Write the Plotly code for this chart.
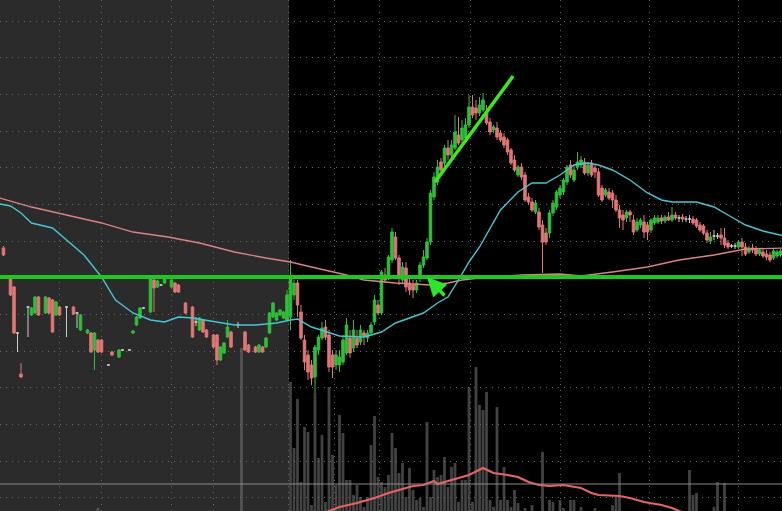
import plotly.graph_objects as go

# ---------------- data ----------------
# premarket bars: bar index and OHLC prices
pre_x = [0, 2, 3, 4, 5, 7, 8, 9, 10, 12,
         13, 14, 15, 16, 18, 20, 21, 22, 24, 25,
         26, 27, 28, 30, 31, 33, 34, 36, 37, 38,
         39, 40, 42, 43, 44, 45, 46, 48, 49, 50,
         52, 54, 55, 56, 57, 58, 60, 61, 62, 63,
         64, 65, 67, 69, 70, 72, 73, 74, 75, 76,
         77, 78, 79, 80, 81]
pre_open = [3.52, 3.23, 3.13, 2.67, 2.26, 2.93, 2.85, 2.87, 3.03, 2.87,
            3.02, 3.00, 2.85, 2.93, 2.93, 2.93, 2.87, 2.70, 2.67, 2.67,
            2.50, 2.60, 2.60, 2.35, 2.48, 2.43, 2.50, 2.50, 2.67, 2.75,
            2.82, 2.92, 2.88, 3.20, 3.13, 3.15, 3.17, 3.13, 3.17, 3.15,
            2.97, 2.93, 2.78, 2.70, 2.80, 2.70, 2.65, 2.65, 2.40, 2.47,
            2.63, 2.68, 2.75, 2.68, 2.55, 2.53, 2.48, 2.53, 2.53, 2.67,
            2.83, 2.80, 2.85, 2.82, 2.80]
pre_high = [3.54, 3.24, 3.14, 2.68, 2.37, 2.94, 2.93, 3.04, 3.04, 3.04,
            3.03, 3.01, 2.99, 2.94, 2.94, 2.94, 2.88, 2.86, 2.71, 2.68,
            2.68, 2.61, 2.61, 2.36, 2.49, 2.51, 2.51, 2.51, 2.70, 2.84,
            2.93, 2.93, 3.23, 3.22, 3.20, 3.16, 3.23, 3.21, 3.18, 3.16,
            2.98, 2.94, 2.83, 2.83, 2.81, 2.71, 2.66, 2.66, 2.54, 2.58,
            2.80, 2.69, 2.78, 2.69, 2.56, 2.54, 2.56, 2.54, 2.63, 2.88,
            2.98, 2.88, 2.91, 2.89, 3.10]
pre_low = [3.44, 3.04, 2.66, 2.48, 2.22, 2.63, 2.84, 2.86, 2.84, 2.86,
           2.86, 2.67, 2.84, 2.84, 2.63, 2.85, 2.72, 2.69, 2.66, 2.47,
           2.30, 2.47, 2.47, 2.34, 2.44, 2.42, 2.49, 2.49, 2.66, 2.74,
           2.81, 2.91, 2.87, 2.88, 3.12, 3.14, 3.16, 3.12, 3.07, 3.07,
           2.86, 2.62, 2.74, 2.69, 2.67, 2.62, 2.52, 2.35, 2.39, 2.46,
           2.62, 2.52, 2.72, 2.49, 2.47, 2.47, 2.47, 2.47, 2.52, 2.66,
           2.82, 2.79, 2.84, 2.81, 2.79]
pre_close = [3.45, 3.05, 2.67, 2.67, 2.23, 2.93, 2.92, 3.03, 2.85, 3.03,
             2.87, 2.68, 2.98, 2.85, 2.93, 2.86, 2.87, 2.85, 2.70, 2.48,
             2.67, 2.48, 2.48, 2.35, 2.45, 2.50, 2.50, 2.50, 2.69, 2.83,
             2.92, 2.92, 3.22, 3.12, 3.19, 3.15, 3.22, 3.20, 3.08, 3.08,
             2.87, 2.63, 2.78, 2.82, 2.68, 2.63, 2.53, 2.40, 2.53, 2.57,
             2.73, 2.53, 2.75, 2.50, 2.48, 2.48, 2.55, 2.48, 2.62, 2.87,
             2.97, 2.87, 2.90, 2.88, 3.05]

# regular session bars: consecutive bar indices starting at 82
day_start = 82
day_open = [2.83, 3.05, 3.17, 2.88, 2.60, 2.45, 2.35, 2.23, 2.50, 2.62,
            2.73, 2.65, 2.45, 2.35, 2.35, 2.38, 2.47, 2.62, 2.52, 2.62,
            2.58, 2.67, 2.62, 2.67, 2.78, 2.95, 2.87, 3.25, 3.23, 3.40,
            3.63, 3.42, 3.20, 3.32, 3.17, 3.15, 3.10, 3.23, 3.35, 3.42,
            3.58, 4.03, 4.18, 4.38, 4.37, 4.52, 4.45, 4.52, 4.65, 4.60,
            4.62, 4.75, 4.93, 4.92, 4.87, 4.90, 4.87, 4.78, 4.70, 4.72,
            4.67, 4.63, 4.60, 4.50, 4.40, 4.25, 4.33, 4.25, 4.03, 3.98,
            3.88, 3.88, 3.75, 3.67, 3.67, 3.87, 3.93, 4.05, 4.08, 4.18,
            4.35, 4.20, 4.33, 4.35, 4.38, 4.27, 4.37, 4.32, 4.28, 4.12,
            4.05, 4.08, 4.07, 4.00, 3.90, 3.85, 3.82, 3.88, 3.80, 3.70,
            3.75, 3.78, 3.75, 3.70, 3.77, 3.78, 3.82, 3.79, 3.83, 3.80,
            3.85, 3.82, 3.83, 3.81, 3.81, 3.81, 3.80, 3.75, 3.74, 3.67,
            3.59, 3.64, 3.64, 3.65, 3.62, 3.57, 3.54, 3.54, 3.53, 3.58,
            3.53, 3.48, 3.52, 3.51, 3.46, 3.48, 3.46, 3.45, 3.42, 3.44,
            3.45]
day_high = [3.40, 3.20, 3.20, 2.95, 2.65, 2.50, 2.40, 2.55, 2.65, 2.78,
            2.80, 2.70, 2.50, 2.50, 2.50, 2.65, 2.82, 2.70, 2.80, 2.70,
            2.75, 2.70, 2.70, 2.78, 3.05, 3.00, 3.30, 3.32, 3.45, 3.72,
            3.68, 3.45, 3.38, 3.38, 3.25, 3.20, 3.20, 3.38, 3.50, 3.62,
            4.10, 4.28, 4.40, 4.42, 4.55, 4.60, 4.60, 4.85, 4.83, 4.80,
            4.82, 5.05, 5.05, 5.00, 5.03, 5.07, 4.95, 4.82, 4.75, 4.78,
            4.70, 4.67, 4.62, 4.52, 4.45, 4.35, 4.37, 4.28, 4.07, 4.02,
            4.00, 3.92, 3.80, 3.72, 3.90, 4.00, 4.10, 4.15, 4.22, 4.35,
            4.40, 4.35, 4.48, 4.44, 4.42, 4.38, 4.40, 4.35, 4.32, 4.15,
            4.12, 4.12, 4.10, 4.05, 3.95, 3.90, 3.90, 3.90, 3.85, 3.82,
            3.82, 3.85, 3.78, 3.82, 3.85, 3.85, 3.85, 3.85, 3.88, 3.93,
            3.88, 3.85, 3.86, 3.84, 3.85, 3.84, 3.82, 3.78, 3.76, 3.70,
            3.68, 3.70, 3.67, 3.72, 3.72, 3.60, 3.56, 3.57, 3.60, 3.62,
            3.57, 3.54, 3.56, 3.54, 3.52, 3.52, 3.50, 3.48, 3.52, 3.50,
            3.51]
day_low = [2.70, 3.00, 2.83, 2.60, 2.30, 2.20, 2.15, 2.07, 2.45, 2.60,
           2.60, 2.28, 2.22, 2.30, 2.28, 2.35, 2.45, 2.42, 2.48, 2.52,
           2.55, 2.55, 2.58, 2.64, 2.75, 2.85, 2.85, 3.17, 3.20, 3.37,
           3.40, 3.15, 3.17, 3.08, 3.05, 3.02, 3.07, 3.18, 3.32, 3.40,
           3.55, 4.00, 4.15, 4.25, 4.32, 4.40, 4.42, 4.50, 4.55, 4.57,
           4.60, 4.72, 4.82, 4.80, 4.84, 4.88, 4.75, 4.65, 4.67, 4.60,
           4.58, 4.52, 4.45, 4.35, 4.28, 4.23, 4.20, 3.98, 3.95, 3.88,
           3.86, 3.70, 3.27, 3.55, 3.62, 3.84, 3.90, 4.02, 4.05, 4.15,
           4.22, 4.18, 4.30, 4.32, 4.25, 4.24, 4.23, 4.22, 4.03, 3.98,
           4.03, 4.00, 3.92, 3.88, 3.72, 3.70, 3.78, 3.78, 3.65, 3.68,
           3.72, 3.62, 3.60, 3.67, 3.75, 3.76, 3.76, 3.77, 3.79, 3.78,
           3.80, 3.78, 3.78, 3.78, 3.77, 3.75, 3.72, 3.68, 3.65, 3.57,
           3.56, 3.60, 3.61, 3.55, 3.52, 3.51, 3.52, 3.51, 3.51, 3.44,
           3.44, 3.46, 3.47, 3.44, 3.44, 3.42, 3.40, 3.38, 3.40, 3.42,
           3.43]
day_close = [3.23, 3.17, 2.95, 2.62, 2.38, 2.28, 2.22, 2.53, 2.63, 2.72,
             2.63, 2.33, 2.33, 2.45, 2.43, 2.60, 2.75, 2.47, 2.70, 2.55,
             2.70, 2.64, 2.67, 2.75, 3.00, 2.87, 3.28, 3.20, 3.43, 3.68,
             3.42, 3.23, 3.33, 3.13, 3.10, 3.10, 3.17, 3.35, 3.43, 3.58,
             4.07, 4.23, 4.33, 4.30, 4.52, 4.45, 4.55, 4.68, 4.57, 4.72,
             4.75, 4.93, 4.85, 4.87, 4.95, 5.00, 4.77, 4.68, 4.73, 4.63,
             4.60, 4.55, 4.48, 4.37, 4.30, 4.33, 4.23, 4.00, 3.98, 3.90,
             3.97, 3.73, 3.58, 3.58, 3.87, 3.97, 4.08, 4.12, 4.20, 4.33,
             4.25, 4.30, 4.38, 4.40, 4.27, 4.35, 4.25, 4.28, 4.05, 4.00,
             4.10, 4.02, 4.00, 3.90, 3.82, 3.80, 3.88, 3.85, 3.68, 3.78,
             3.80, 3.68, 3.68, 3.80, 3.82, 3.82, 3.79, 3.83, 3.80, 3.85,
             3.82, 3.82, 3.81, 3.81, 3.81, 3.77, 3.74, 3.70, 3.67, 3.60,
             3.63, 3.64, 3.64, 3.62, 3.55, 3.53, 3.54, 3.54, 3.58, 3.53,
             3.46, 3.52, 3.50, 3.46, 3.50, 3.44, 3.43, 3.40, 3.49, 3.48,
             3.49]

# volume (thousands of shares) by bar index
vol_x = [27, 68,
         82, 83, 84, 85, 86, 87, 88, 89, 90, 91,
         92, 93, 94, 95, 96, 97, 98, 99, 100, 101,
         102, 103, 104, 105, 106, 107, 108, 109, 110, 111,
         112, 113, 114, 115, 116, 117, 118, 119, 120, 121,
         122, 123, 124, 125, 126, 127, 128, 129, 130, 131,
         132, 133, 134, 135, 136, 137, 138, 139, 140, 141,
         142, 143, 144, 145, 146, 147, 149, 151, 154, 156,
         157, 159, 160, 162, 163, 165, 169, 174, 175, 176,
         196, 197, 198, 203, 204, 206]
vol_k = [3, 163,
         129, 63, 112, 29, 84, 79, 6, 118, 53, 76,
         9, 124, 56, 26, 96, 78, 31, 31, 16, 26,
         14, 4, 14, 66, 95, 34, 29, 24, 36, 78,
         63, 38, 48, 14, 43, 21, 11, 13, 4, 89,
         14, 41, 34, 36, 54, 24, 44, 48, 9, 31,
         31, 124, 9, 144, 106, 101, 119, 11, 4, 104,
         11, 44, 11, 4, 21, 8, 3, 6, 59, 11,
         9, 11, 3, 11, 11, 4, 3, 6, 14, 38,
         41, 16, 18, 4, 29, 28]

# moving averages
ma_fast_x = [-1, 2, 5, 8, 14, 18, 23, 28, 32, 37,
             42, 46, 50, 54, 59, 66, 72, 78, 82, 84,
             88, 93, 96, 103, 108, 112, 117, 120, 124, 127,
             130, 133, 136, 142, 147, 151, 155, 159, 163, 167,
             170, 174, 179, 184, 188, 191, 198, 203, 208, 212,
             217, 223]
ma_fast = [3.96, 3.94, 3.87, 3.77, 3.72, 3.60, 3.45, 3.23, 3.00, 2.87,
           2.80, 2.78, 2.83, 2.82, 2.79, 2.75, 2.75, 2.77, 2.80, 2.81,
           2.73, 2.67, 2.64, 2.63, 2.68, 2.77, 2.83, 2.87, 2.97, 3.03,
           3.20, 3.38, 3.53, 3.90, 4.08, 4.17, 4.17, 4.25, 4.35, 4.37,
           4.35, 4.30, 4.20, 4.07, 4.00, 3.98, 3.98, 3.93, 3.83, 3.75,
           3.69, 3.64]
ma_slow_x = [-1, 8, 18, 28, 37, 47, 56, 66, 75, 82,
             88, 93, 98, 103, 108, 112, 117, 122, 127, 131,
             136, 148, 159, 165, 174, 184, 193, 203, 212, 223]
ma_slow = [4.02, 3.93, 3.85, 3.77, 3.68, 3.63, 3.57, 3.48, 3.42, 3.38,
           3.33, 3.29, 3.25, 3.20, 3.18, 3.17, 3.16, 3.15, 3.17, 3.20,
           3.22, 3.25, 3.26, 3.24, 3.28, 3.33, 3.40, 3.45, 3.51, 3.52]
vol_ma_x = [90, 93, 96, 101, 106, 110, 115, 117, 120, 123,
            124, 127, 130, 133, 137, 140, 144, 147, 150, 153,
            156, 160, 165, 168, 170, 176, 179, 183, 188, 191,
            193, 196]
vol_ma = [-4, 0, 4, 8, 13, 18, 23, 25, 26, 30,
          27, 30, 33, 36, 43, 38, 36, 34, 29, 26,
          25, 26, 23, 18, 16, 15, 13, 9, 6, 3,
          0, -4]

# time grid marks (bar index) and drawings
grid_x = [16.14, 28.14, 47.86, 59.86, 81.29, 94.43, 107.29, 133.29, 159.0, 184.43, 210.14]
session_open_x = 81.57
key_level = 3.23
vol_ref_level = 27
trend_x = [123.3, 145.6]
trend_y = [4.18, 5.24]
arrow_tip = [121.0, 3.23]
arrow_tail = [126.4, 3.03]

# ---------------- figure ----------------
day_x = list(range(day_start, day_start + len(day_open)))
all_x = pre_x + day_x
all_o = pre_open + day_open
all_h = pre_high + day_high
all_l = pre_low + day_low
all_c = pre_close + day_close

UP, DOWN, FLAT = "#2fbf3a", "#e07676", "#c9c9c9"


def subset(cond):
    idx = [i for i in range(len(all_x)) if cond(all_o[i], all_c[i])]
    return ([all_x[i] for i in idx], [all_o[i] for i in idx], [all_h[i] for i in idx],
            [all_l[i] for i in idx], [all_c[i] for i in idx])


fig = go.Figure()

# volume on main y axis (drawn beneath price)
fig.add_trace(go.Bar(x=vol_x, y=vol_k, width=0.8, marker=dict(color="rgba(110,110,110,0.6)", line=dict(width=0)),
                     yaxis="y", hoverinfo="skip"))
fig.add_trace(go.Scatter(x=vol_ma_x, y=vol_ma, mode="lines", line=dict(color="#e46464", width=2.2),
                         yaxis="y", hoverinfo="skip"))

for cond, col in [(lambda o, c: c > o, UP), (lambda o, c: c < o, DOWN), (lambda o, c: c == o, FLAT)]:
    x, o, h, l, c = subset(cond)
    fig.add_trace(go.Candlestick(
        x=x, open=o, high=h, low=l, close=c, yaxis="y2",
        increasing=dict(line=dict(color=col, width=1), fillcolor=col),
        decreasing=dict(line=dict(color=col, width=1), fillcolor=col),
        whiskerwidth=0, hoverinfo="skip"))

fig.add_trace(go.Scatter(x=ma_slow_x, y=ma_slow, mode="lines", line=dict(color="#d98383", width=1.3),
                         yaxis="y2", hoverinfo="skip"))
fig.add_trace(go.Scatter(x=ma_fast_x, y=ma_fast, mode="lines", line=dict(color="#46c6d4", width=1.4),
                         yaxis="y2", hoverinfo="skip"))

shapes = [
    dict(type="rect", xref="x", yref="paper", x0=-1, x1=session_open_x, y0=0, y1=1,
         fillcolor="#2b2b2b", line=dict(width=0), layer="below"),
    dict(type="line", xref="paper", yref="y", x0=0, x1=1, y0=vol_ref_level, y1=vol_ref_level,
         line=dict(color="#8a8a8a", width=1), layer="above"),
    dict(type="line", xref="paper", yref="y2", x0=0, x1=1, y0=key_level, y1=key_level,
         line=dict(color="#1fc81f", width=4), layer="above"),
    dict(type="line", xref="x", yref="y2", x0=trend_x[0], x1=trend_x[1], y0=trend_y[0], y1=trend_y[1],
         line=dict(color="#3ee61e", width=3.5), layer="above"),
]

fig.update_layout(
    width=782, height=511,
    margin=dict(l=0, r=0, t=0, b=0, pad=0),
    paper_bgcolor="#000000", plot_bgcolor="#000000",
    showlegend=False, hovermode=False,
    shapes=shapes,
    annotations=[dict(x=arrow_tip[0], y=arrow_tip[1], xref="x", yref="y2",
                      ax=arrow_tail[0], ay=arrow_tail[1], axref="x", ayref="y2",
                      text="", showarrow=True, arrowhead=2, arrowsize=1.1, arrowwidth=3.5,
                      arrowcolor="#2ee62e", standoff=0)],
    xaxis=dict(range=[-1, 222.43], tickvals=grid_x, showticklabels=False, ticks="",
               showgrid=True, gridcolor="#6a6a6a", gridwidth=1, griddash="1px,5px",
               zeroline=False, showline=False, rangeslider=dict(visible=False), fixedrange=True),
    yaxis=dict(range=[0, 511], showgrid=False, showticklabels=False, ticks="", zeroline=False,
               showline=False, fixedrange=True),
    yaxis2=dict(range=[0.89, 6.00], overlaying="y", side="right", tick0=3.223, dtick=0.3667,
                showticklabels=False, ticks="", showgrid=True, gridcolor="#6a6a6a", gridwidth=1,
                griddash="1px,5px", zeroline=False, showline=False, fixedrange=True),
    boxgap=0.2, boxgroupgap=0.1,
)

fig.write_html(
    "out.html",
    config={"displayModeBar": False, "staticPlot": True},
    post_script="document.body.style.margin='0';document.body.style.padding='0';"
                "document.body.style.background='#000';document.body.style.overflow='hidden';",
)
